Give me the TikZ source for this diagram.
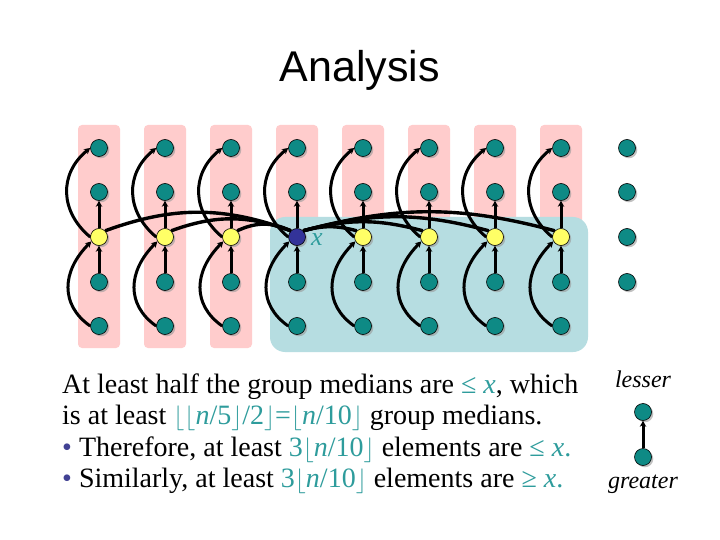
\documentclass[tikz,border=0pt]{standalone}
\usepackage{fontspec}
\setmainfont{Liberation Serif}
\newfontfamily\titlefont{Liberation Sans}
\usetikzlibrary{arrows.meta,shadows,backgrounds}
\definecolor{grpfill}{HTML}{FFCCCC}
\definecolor{bigfill}{HTML}{B6DDE1}
\definecolor{elemfill}{HTML}{0E8A85}
\definecolor{medfill}{HTML}{FFFF66}
\definecolor{xfill}{HTML}{333399}
\definecolor{mathc}{HTML}{2E9C9C}

\begin{document}
\begin{tikzpicture}[
  x=1pt, y=-1pt,
  elem/.style={circle, draw=black, line width=0.6pt, fill=elemfill, minimum size=17pt, inner sep=0pt,
               drop shadow={shadow xshift=1.8pt, shadow yshift=-1.8pt, fill=gray!80, opacity=0.6}},
  med/.style={elem, fill=medfill},
  xmed/.style={elem, fill=xfill},
  arr/.style={-{Stealth[length=6pt,width=6.5pt]}, line width=3pt},
  link/.style={line width=3.4pt},
  txt/.style={anchor=base west, inner sep=0pt, font=\fontsize{28}{30}\selectfont},
  lbl/.style={anchor=base, inner sep=0pt, font=\fontsize{24}{24}\selectfont\itshape}
]
  \useasboundingbox (0,0) rectangle (720,540);
  % Titel
  \node[anchor=base, inner sep=0pt, font=\titlefont\fontsize{43}{48}\selectfont] (title) at (360,82) {Analysis};

  % Gruppen mit je 5 Elementen
  \foreach \c/\ms in {1/med,2/med,3/med,4/xmed,5/med,6/med,7/med,8/med} {
    \pgfmathsetmacro{\cx}{99+66*(\c-1)}
    \node[elem] (n\c-1) at (\cx,148) {};
    \node[elem] (n\c-2) at (\cx,192) {};
    \node[\ms]  (m\c)   at (\cx,237) {};
    \node[elem] (n\c-4) at (\cx,282) {};
    \node[elem] (n\c-5) at (\cx,326) {};
    \draw[arr] (n\c-4) -- (m\c);
    \draw[arr] (m\c) -- (n\c-2);
    \draw[arr] (n\c-5.west) .. controls +(-30,-21) and +(-30,30) .. (m\c.210);
    \draw[arr] (m\c.west) .. controls +(-30,-25) and +(-32,26) .. (n\c-1.west);
  }
  % restliche Elemente
  \foreach \r/\ry in {1/148,2/192,3/237,4/282} {
    \node[elem] (s\r) at (627,\ry) {};
  }

  \begin{scope}[on background layer]
    \fill[white] (0,0) rectangle (720,540);
    \foreach \c in {1,...,8} {
      \pgfmathsetmacro{\cx}{99+66*(\c-1)}
      \fill[grpfill, rounded corners=4pt] (\cx-21,125) rectangle (\cx+21,348);
    }
    \fill[bigfill, rounded corners=15pt] (270,217) rectangle (588,352);
  \end{scope}

  % Mediane gegen x
  \draw[link] (m1.north east) to[out=20, in=160] (m4.north west);
  \draw[link] (m2.north east) to[out=20, in=160] (m4.north west);
  \draw[link] (m3.north east) to[out=25, in=155] (m4.north west);
  \foreach \c in {5,...,8} {
    \draw[link] (m4.north east) to[out=15, in=165] (m\c.north west);
  }
  \node[anchor=west, inner sep=0pt, text=mathc, font=\fontsize{26}{26}\selectfont\itshape] (xl) at (311,240) {x};

  % Text
  \node[txt] (l1) at (62,393) {At least half the group medians are \textcolor{mathc}{≤ \textit{x}}, which};
  \node[txt] (l2) at (62,424) {is at least \textcolor{mathc}{$\lfloor\lfloor$\textit{n}/5$\rfloor$/2$\rfloor$=$\lfloor$\textit{n}/10$\rfloor$} group medians.};
  \node[txt] (l3) at (62,456) {\textcolor{xfill!80!gray}{\textbullet} Therefore, at least \textcolor{mathc}{3$\lfloor$\textit{n}/10$\rfloor$} elements are \textcolor{mathc}{≤ \textit{x}.}};
  \node[txt] (l4) at (62,487) {\textcolor{xfill!80!gray}{\textbullet} Similarly, at least \textcolor{mathc}{3$\lfloor$\textit{n}/10$\rfloor$} elements are \textcolor{mathc}{≥ \textit{x}.}};

  % Legende
  \node[lbl] (lesser) at (643,387) {lesser};
  \node[elem] (lo) at (643,412) {};
  \node[elem] (hi) at (643,457) {};
  \draw[arr] (hi) -- (lo);
  \node[lbl] (greater) at (643,488) {greater};
\end{tikzpicture}
\end{document}
